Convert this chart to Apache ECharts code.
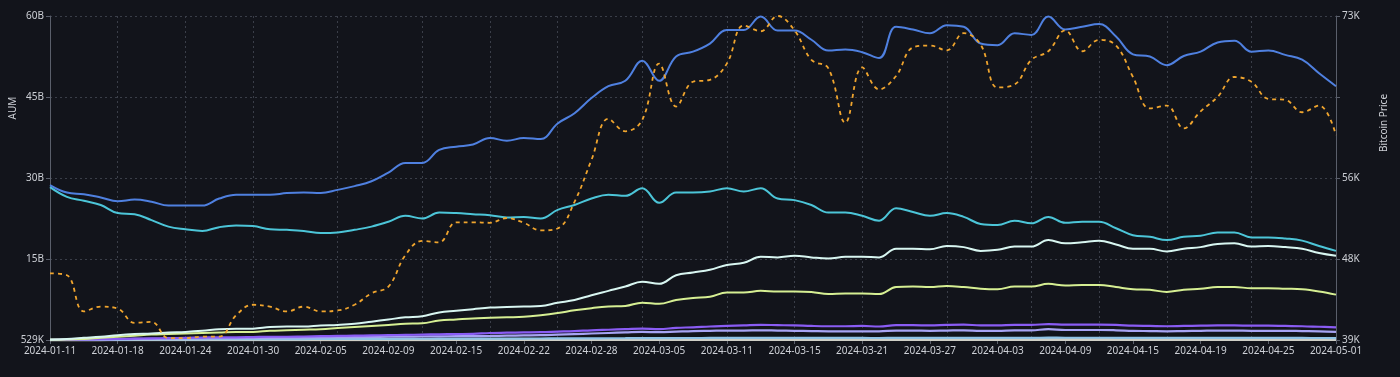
<!DOCTYPE html>
<html>
<head>
<meta charset="utf-8">
<title>ETF AUM vs Bitcoin Price</title>
<script src="https://cdn.jsdelivr.net/npm/echarts@6/dist/echarts.min.js"></script>
<style>
  html, body { margin: 0; padding: 0; background: #12141b; }
  #chart { width: 1400px; height: 377px; }
</style>
</head>
<body>
<div id="chart"></div>
<script>
// trading days shown on the x axis
var dates = [
	"2024-01-11","2024-01-12","2024-01-16","2024-01-17","2024-01-18","2024-01-19","2024-01-22","2024-01-23","2024-01-24","2024-01-25",
	"2024-01-26","2024-01-29","2024-01-30","2024-01-31","2024-02-01","2024-02-02","2024-02-05","2024-02-06","2024-02-07","2024-02-08",
	"2024-02-09","2024-02-12","2024-02-13","2024-02-14","2024-02-15","2024-02-16","2024-02-20","2024-02-21","2024-02-22","2024-02-23",
	"2024-02-26","2024-02-27","2024-02-28","2024-02-29","2024-03-01","2024-03-04","2024-03-05","2024-03-06","2024-03-07","2024-03-08",
	"2024-03-11","2024-03-12","2024-03-13","2024-03-14","2024-03-15","2024-03-18","2024-03-19","2024-03-20","2024-03-21","2024-03-22",
	"2024-03-25","2024-03-26","2024-03-27","2024-03-28","2024-04-01","2024-04-02","2024-04-03","2024-04-04","2024-04-05","2024-04-08",
	"2024-04-09","2024-04-10","2024-04-11","2024-04-12","2024-04-15","2024-04-16","2024-04-17","2024-04-18","2024-04-19","2024-04-22",
	"2024-04-23","2024-04-24","2024-04-25","2024-04-26","2024-04-29","2024-04-30","2024-05-01"
];

// AUM, billions USD
var totalAum = [28.7,27.3,27.0,26.4,25.7,26.0,25.6,24.9,24.9,24.9,26.2,26.9,26.9,26.9,27.2,27.3,27.2,27.8,28.5,29.4,
	31.0,32.8,32.8,35.2,35.8,36.2,37.4,36.9,37.4,37.2,40.1,42.0,44.8,47.0,48.0,51.7,48.0,52.5,53.4,54.9,
	57.4,57.4,59.9,57.3,57.3,55.6,53.6,53.8,53.3,52.2,58.0,57.5,56.8,58.3,58.0,54.9,54.6,56.8,56.5,59.9,
	57.5,58.0,58.5,56.2,52.9,52.5,50.9,52.6,53.4,55.1,55.4,53.4,53.6,52.8,51.9,49.4,47.0];
var gbtc = [28.3,26.5,25.8,25.0,23.5,23.3,22.2,21.0,20.5,20.2,20.9,21.2,21.1,20.5,20.4,20.2,19.8,19.9,20.4,21.0,
	21.9,23.0,22.5,23.6,23.5,23.3,23.1,22.7,22.8,22.5,24.1,25.0,26.2,26.9,26.7,28.1,25.4,27.3,27.3,27.5,
	28.1,27.5,28.1,26.2,25.9,25.0,23.6,23.6,23.0,22.1,24.4,23.7,23.0,23.5,22.8,21.5,21.3,22.1,21.6,22.8,
	21.7,21.9,21.9,20.7,19.4,19.1,18.5,19.1,19.3,19.9,19.9,19.0,19.0,18.8,18.4,17.4,16.5];
var ibit = [0.05,0.2,0.4,0.6,0.9,1.1,1.2,1.4,1.5,1.7,2.0,2.1,2.1,2.4,2.5,2.5,2.7,2.8,3.0,3.4,
	3.8,4.2,4.4,5.1,5.4,5.7,6.0,6.1,6.2,6.3,6.9,7.4,8.3,9.1,9.9,10.8,10.4,12.0,12.5,13.0,
	13.9,14.3,15.4,15.3,15.6,15.3,15.1,15.4,15.4,15.3,16.9,16.9,16.8,17.4,17.2,16.5,16.7,17.3,17.3,18.5,
	17.9,18.1,18.4,17.7,16.9,16.9,16.4,16.9,17.2,17.8,17.9,17.3,17.4,17.2,16.9,16.1,15.6];
var fbtc = [0.05,0.1,0.2,0.4,0.6,0.8,1.0,1.1,1.2,1.3,1.4,1.5,1.5,1.7,1.8,1.9,2.0,2.2,2.4,2.6,
	2.8,3.0,3.1,3.6,3.8,4.0,4.1,4.2,4.3,4.6,5.0,5.5,5.9,6.2,6.3,6.9,6.7,7.4,7.8,8.0,
	8.8,8.8,9.1,9.0,9.0,8.9,8.5,8.6,8.6,8.5,9.8,9.9,9.8,10.0,9.8,9.5,9.4,9.9,9.9,10.4,
	10.1,10.2,10.2,9.8,9.4,9.3,8.9,9.3,9.5,9.8,9.8,9.6,9.6,9.5,9.4,9.0,8.4];
var arkb = [0.0,0.05,0.1,0.15,0.2,0.25,0.3,0.35,0.4,0.45,0.5,0.5,0.55,0.6,0.6,0.65,0.7,0.75,0.8,0.85,
	0.9,0.95,1.0,1.05,1.1,1.15,1.3,1.35,1.4,1.45,1.55,1.65,1.8,1.9,2.0,2.1,2.0,2.25,2.35,2.5,
	2.6,2.7,2.8,2.75,2.7,2.6,2.55,2.55,2.6,2.5,2.75,2.75,2.7,2.8,2.85,2.7,2.7,2.8,2.8,2.95,
	2.85,2.85,2.85,2.8,2.65,2.6,2.55,2.6,2.65,2.7,2.7,2.65,2.65,2.6,2.55,2.45,2.35];
var bitb = [0.0,0.05,0.1,0.12,0.15,0.2,0.22,0.25,0.28,0.3,0.32,0.35,0.38,0.4,0.42,0.45,0.5,0.52,0.55,0.58,
	0.6,0.62,0.65,0.68,0.7,0.72,0.75,0.8,0.85,0.9,1.0,1.1,1.2,1.3,1.4,1.5,1.45,1.55,1.65,1.7,
	1.75,1.75,1.8,1.75,1.7,1.65,1.6,1.6,1.6,1.6,1.75,1.75,1.7,1.75,1.8,1.7,1.7,1.8,1.8,2.0,
	1.85,1.85,1.85,1.8,1.7,1.65,1.6,1.65,1.7,1.75,1.75,1.7,1.7,1.7,1.65,1.6,1.5];
var hodl = [0.02,0.03,0.05,0.06,0.08,0.09,0.1,0.11,0.12,0.13,0.14,0.15,0.16,0.17,0.18,0.18,0.19,0.2,0.2,0.21,
	0.22,0.23,0.23,0.24,0.25,0.25,0.26,0.27,0.27,0.28,0.29,0.3,0.31,0.32,0.33,0.35,0.34,0.36,0.37,0.38,
	0.39,0.4,0.41,0.4,0.4,0.39,0.38,0.38,0.38,0.37,0.4,0.4,0.4,0.41,0.41,0.4,0.4,0.41,0.41,0.43,
	0.42,0.42,0.42,0.41,0.4,0.39,0.38,0.39,0.39,0.4,0.4,0.39,0.39,0.39,0.38,0.37,0.36];
var others = [0.01,0.01,0.02,0.02,0.03,0.03,0.03,0.04,0.04,0.04,0.04,0.05,0.05,0.05,0.05,0.05,0.05,0.06,0.06,0.06,
	0.06,0.06,0.06,0.07,0.07,0.07,0.07,0.07,0.07,0.07,0.08,0.08,0.08,0.08,0.09,0.09,0.09,0.09,0.1,0.1,
	0.1,0.1,0.11,0.1,0.1,0.1,0.1,0.1,0.1,0.1,0.11,0.11,0.11,0.11,0.11,0.1,0.1,0.11,0.11,0.11,
	0.11,0.11,0.11,0.11,0.1,0.1,0.1,0.1,0.1,0.1,0.1,0.1,0.1,0.1,0.1,0.1,0.1];

// bitcoin price, thousands USD
var btcPrice = [46.0,45.8,42.0,42.5,42.3,40.8,40.9,39.2,39.2,39.35,39.35,41.6,42.7,42.5,42.0,42.5,42.0,42.1,42.7,43.9,
	44.6,47.9,49.4,49.25,51.35,51.35,51.3,51.8,51.3,50.5,50.7,53.5,57.9,62.2,60.9,62.1,68.0,63.5,66.1,66.3,
	68.0,72.0,71.4,73.0,71.5,68.4,67.5,61.8,67.6,65.3,66.7,69.7,69.9,69.4,71.2,70.0,65.5,65.8,68.4,69.3,
	71.5,69.3,70.5,69.9,66.6,63.3,63.6,61.2,63.0,64.5,66.6,66.1,64.3,64.2,62.9,63.6,60.5];

// tick labels
var aumTicks = ["529K", "15B", "30B", "45B", "60B"];
var priceTicks = ["39K", "48K", "56K", "", "73K"];
// vertical grid lines (category index)
var gridIdx = [4, 8, 12, 17, 22, 26, 30, 35, 40, 44, 48, 53, 58, 62, 66, 71];

var voChart = null;

function aumLine(name, data, color, width) {
	return {
		name: name,
		type: "line",
		yAxisIndex: 0,
		data: data,
		smooth: 0.4,
		symbol: "none",
		lineStyle: { color: color, width: width || 2 },
		itemStyle: { color: color }
	};
}

function drawChart() {
	voChart = echarts.init(document.getElementById("chart"));

	var labelStyle = { color: "#cdd0d6", fontSize: 10, fontFamily: "Noto Sans" };
	var gridLine = { color: "#3a3e49", width: 1, type: [2, 3] };

	var voOption = {
		backgroundColor: "#12141b",
		animation: false,
		grid: { left: 50, right: 64, top: 16, bottom: 37, containLabel: false },
		xAxis: {
			type: "category",
			data: dates,
			boundaryGap: false,
			axisLine: { show: true, lineStyle: { color: "#5a5f6b" } },
			axisTick: { show: true, interval: 3, length: 4, lineStyle: { color: "#5a5f6b" } },
			axisLabel: Object.assign({ interval: 3, margin: 6 }, labelStyle),
			splitLine: {
				show: true,
				interval: function(index) { return gridIdx.indexOf(index) >= 0; },
				lineStyle: gridLine
			}
		},
		yAxis: [
			{
				type: "value",
				min: 0, max: 60, interval: 15,
				axisLine: { show: true, lineStyle: { color: "#5a5f6b" } },
				axisTick: { show: true, length: 4, lineStyle: { color: "#5a5f6b" } },
				axisLabel: Object.assign({
					margin: 6,
					formatter: function(v) { return aumTicks[Math.round(v / 15)]; }
				}, labelStyle),
				splitLine: { show: true, lineStyle: gridLine }
			},
			{
				type: "value",
				min: 39, max: 73, interval: 8.5,
				position: "right",
				axisLine: { show: true, lineStyle: { color: "#5a5f6b" } },
				axisTick: { show: true, length: 4, lineStyle: { color: "#5a5f6b" } },
				axisLabel: Object.assign({
					margin: 6,
					formatter: function(v) { return priceTicks[Math.round((v - 39) / 8.5)]; }
				}, labelStyle),
				splitLine: { show: false }
			}
		],
		graphic: [
			{
				type: "text", x: 13, y: 108, rotation: Math.PI / 2,
				style: { text: "AUM", fill: "#cdd0d6", font: "10px Noto Sans", align: "center", verticalAlign: "middle" }
			},
			{
				type: "text", x: 1384, y: 123, rotation: Math.PI / 2,
				style: { text: "Bitcoin Price", fill: "#cdd0d6", font: "10px Noto Sans", align: "center", verticalAlign: "middle" }
			}
		],
		series: [
			aumLine("Others", others, "#cfcfc6", 3),
			aumLine("HODL", hodl, "#8fc3e6", 2.2),
			aumLine("BITB", bitb, "#a7a3f3", 2.2),
			aumLine("ARKB", arkb, "#8a5cf4", 2.2),
			aumLine("FBTC", fbtc, "#d6ef93", 2),
			aumLine("IBIT", ibit, "#d8f6f1", 2),
			aumLine("GBTC", gbtc, "#4cc5d8", 2),
			aumLine("Total AUM", totalAum, "#4f80e0", 2),
			{
				name: "Bitcoin Price",
				type: "line",
				yAxisIndex: 1,
				data: btcPrice,
				smooth: 0.4,
				symbol: "none",
				lineStyle: { color: "#f0a52e", width: 1.8, type: [4, 4] },
				itemStyle: { color: "#f0a52e" }
			}
		]
	};

	voChart.setOption(voOption);
}

drawChart();

window.addEventListener("resize", function() {
	if (voChart) voChart.resize();
});
</script>
</body>
</html>
